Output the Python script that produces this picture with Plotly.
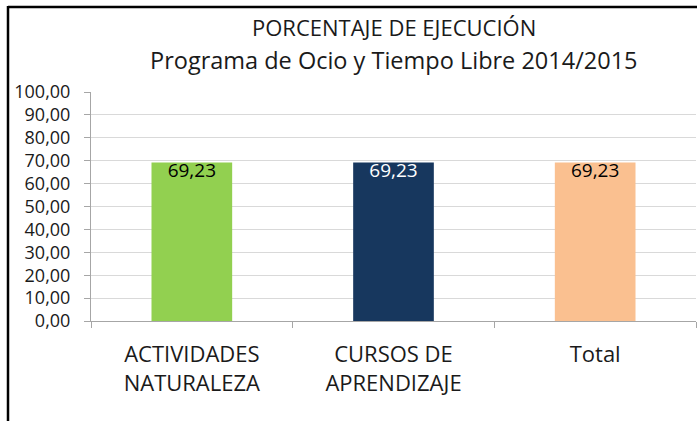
import plotly.graph_objects as go

categories = ["ACTIVIDADES<br>NATURALEZA", "CURSOS DE<br>APRENDIZAJE", "Total"]
values = [69.23, 69.23, 69.23]
labels = ["69,23", "69,23", "69,23"]
colors = ["#92D050", "#17375E", "#FAC090"]
label_colors = ["#000000", "#FFFFFF", "#000000"]
title_line1 = "PORCENTAJE DE EJECUCIÓN"
title_line2 = "Programa de Ocio y Tiempo Libre 2014/2015"

FONT = "Open Sans"
W, H = 697, 421
L, R, T, B = 91, 1, 92, 100
pw = W - L - R
ph = H - T - B

fig = go.Figure()
fig.add_trace(go.Bar(
    x=categories, y=values,
    marker=dict(color=colors, line=dict(width=0)),
    width=0.4,
    hoverinfo="skip",
))
fig.add_trace(go.Scatter(
    x=categories, y=values, text=labels, mode="text",
    textposition="bottom center",
    textfont=dict(family=FONT, size=19, color=label_colors),
    hoverinfo="skip", cliponaxis=False,
))

def px_x(p):
    return (p - L) / pw

def px_y(p):
    return (H - B - p) / ph

fig.update_layout(
    width=W, height=H,
    margin=dict(l=L, r=R, t=T, b=B, pad=0),
    paper_bgcolor="white", plot_bgcolor="white",
    separators=",.",
    showlegend=False,
    font=dict(family=FONT, color="#1a1a1a"),
    xaxis=dict(
        showline=True, linecolor="#A6A6A6", linewidth=1,
        ticks="outside", tickson="boundaries", ticklen=6, tickcolor="#A6A6A6",
        tickfont=dict(family=FONT, size=22, color="#1a1a1a"),
        ticklabelstandoff=14,
        showgrid=False, fixedrange=True,
    ),
    yaxis=dict(
        range=[0, 100], dtick=10, tickformat=".2f",
        showline=True, linecolor="#A6A6A6", linewidth=1,
        ticks="outside", ticklen=6, tickcolor="#A6A6A6",
        showgrid=True, gridcolor="#D9D9D9", gridwidth=1,
        zeroline=False,
        tickfont=dict(family=FONT, size=18, color="#1a1a1a"),
        ticklabelstandoff=10,
        fixedrange=True,
    ),
    annotations=[
        dict(text=title_line1, xref="paper", yref="paper", x=0.5, y=px_y(27),
             showarrow=False, xanchor="center", yanchor="middle",
             font=dict(family=FONT, size=22, color="#1a1a1a")),
        dict(text=title_line2, xref="paper", yref="paper", x=0.5, y=px_y(60),
             showarrow=False, xanchor="center", yanchor="middle",
             font=dict(family=FONT, size=23.5, color="#1a1a1a")),
    ],
    shapes=[
        dict(type="line", xref="paper", yref="paper",
             x0=px_x(8), x1=px_x(8), y0=px_y(6), y1=px_y(421),
             line=dict(color="black", width=2.5)),
        dict(type="line", xref="paper", yref="paper",
             x0=px_x(8), x1=px_x(697), y0=px_y(7), y1=px_y(7),
             line=dict(color="black", width=2.5)),
    ],
)

fig.write_html("out.html", config={"displayModeBar": False},
               post_script="document.body.style.margin='0';document.body.style.overflow='hidden';")
